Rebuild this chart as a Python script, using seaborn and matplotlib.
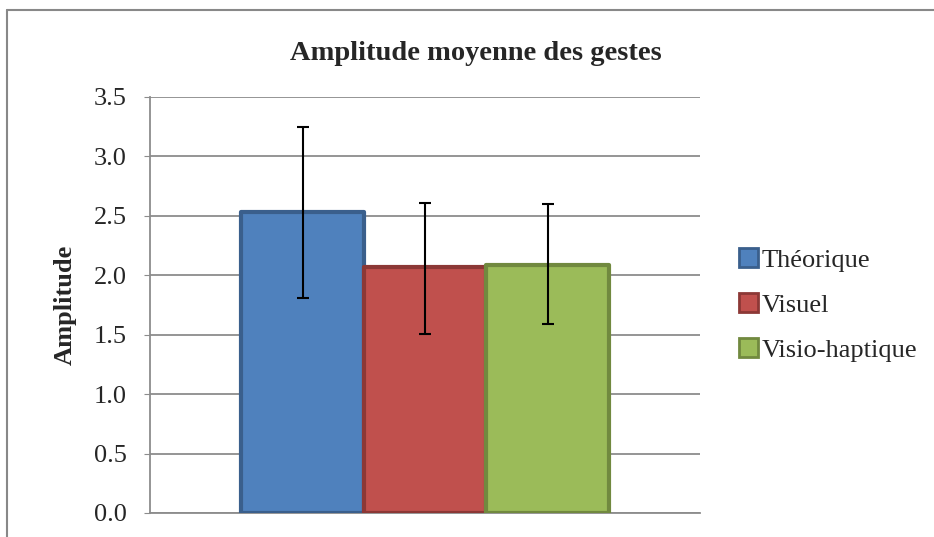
import pandas as pd
import matplotlib.pyplot as plt
import seaborn as sns
from matplotlib.lines import Line2D

conditions = ["Théorique", "Visuel", "Visio-haptique"]
means = [2.53, 2.07, 2.09]
err_low = [1.81, 1.51, 1.59]
err_high = [3.25, 2.61, 2.60]

fills = ["#4F81BD", "#C0504D", "#9BBB59"]
edges = ["#3A5F8C", "#8C3836", "#71893F"]

df = pd.DataFrame({"grp": [""] * 3, "cond": conditions, "val": means})

sns.set_style("white")
plt.rcParams["font.family"] = ["Liberation Serif", "DejaVu Serif"]

fig = plt.figure(figsize=(9.34, 5.37), dpi=100)
ax = fig.add_axes([0.1606, 0.0447, 0.589, 0.7747])

sns.barplot(data=df, x="grp", y="val", hue="cond", hue_order=conditions,
            palette=fills, width=0.668, gap=0, errorbar=None, ax=ax,
            saturation=1, zorder=3)
ax.set_xlim(-0.5, 0.5)

# style the bars and add the error bars at their centres
for patch, ec, lo, hi, m in zip(ax.patches, edges, err_low, err_high, means):
    patch.set_edgecolor(ec)
    patch.set_linewidth(3)
    patch.set_joinstyle("round")
    cx = patch.get_x() + patch.get_width() / 2
    ax.errorbar(cx, m, yerr=[[m - lo], [hi - m]], fmt="none", ecolor="black",
                elinewidth=1.5, capsize=4.5, capthick=1.5, zorder=4)

ax.set_ylim(0, 3.5)
ax.set_yticks([0, 0.5, 1, 1.5, 2, 2.5, 3, 3.5])
ax.set_yticklabels([f"{v:.1f}" for v in ax.get_yticks()], fontsize=19)
ax.set_xticks([])
ax.set_xlabel("")
ax.set_ylabel("Amplitude", fontsize=19, fontweight="bold")
ax.yaxis.set_label_coords(-0.134, 0.5)
ax.yaxis.grid(True, color="#8C8C8C", linewidth=1.3, zorder=0)
ax.set_axisbelow(True)
ax.tick_params(axis="y", left=True, length=4, color="#8C8C8C", pad=13)
for s in ["top", "right"]:
    ax.spines[s].set_visible(False)
for s in ["left", "bottom"]:
    ax.spines[s].set_color("#8C8C8C")
    ax.spines[s].set_linewidth(1.3)

fig.text(0.51, 0.9, "Amplitude moyenne des gestes", fontsize=20.5,
         fontweight="bold", ha="center", va="center")

handles, labels = ax.get_legend_handles_labels()
for h, ec in zip(handles, edges):
    h.set_edgecolor(ec)
    h.set_linewidth(2)
ax.legend(handles, labels, loc="center left", bbox_to_anchor=(1.028, 0.5),
          frameon=False, fontsize=19, handlelength=0.7, handleheight=0.7,
          handletextpad=0.15, labelspacing=0.82)

# chart frame (top and left edges visible)
fig.add_artist(Line2D([0.008, 1.0], [0.981, 0.981], color="#888888", linewidth=1.5))
fig.add_artist(Line2D([0.008, 0.008], [0.0, 0.981], color="#888888", linewidth=1.5))

fig.savefig("out.png", dpi=100)
